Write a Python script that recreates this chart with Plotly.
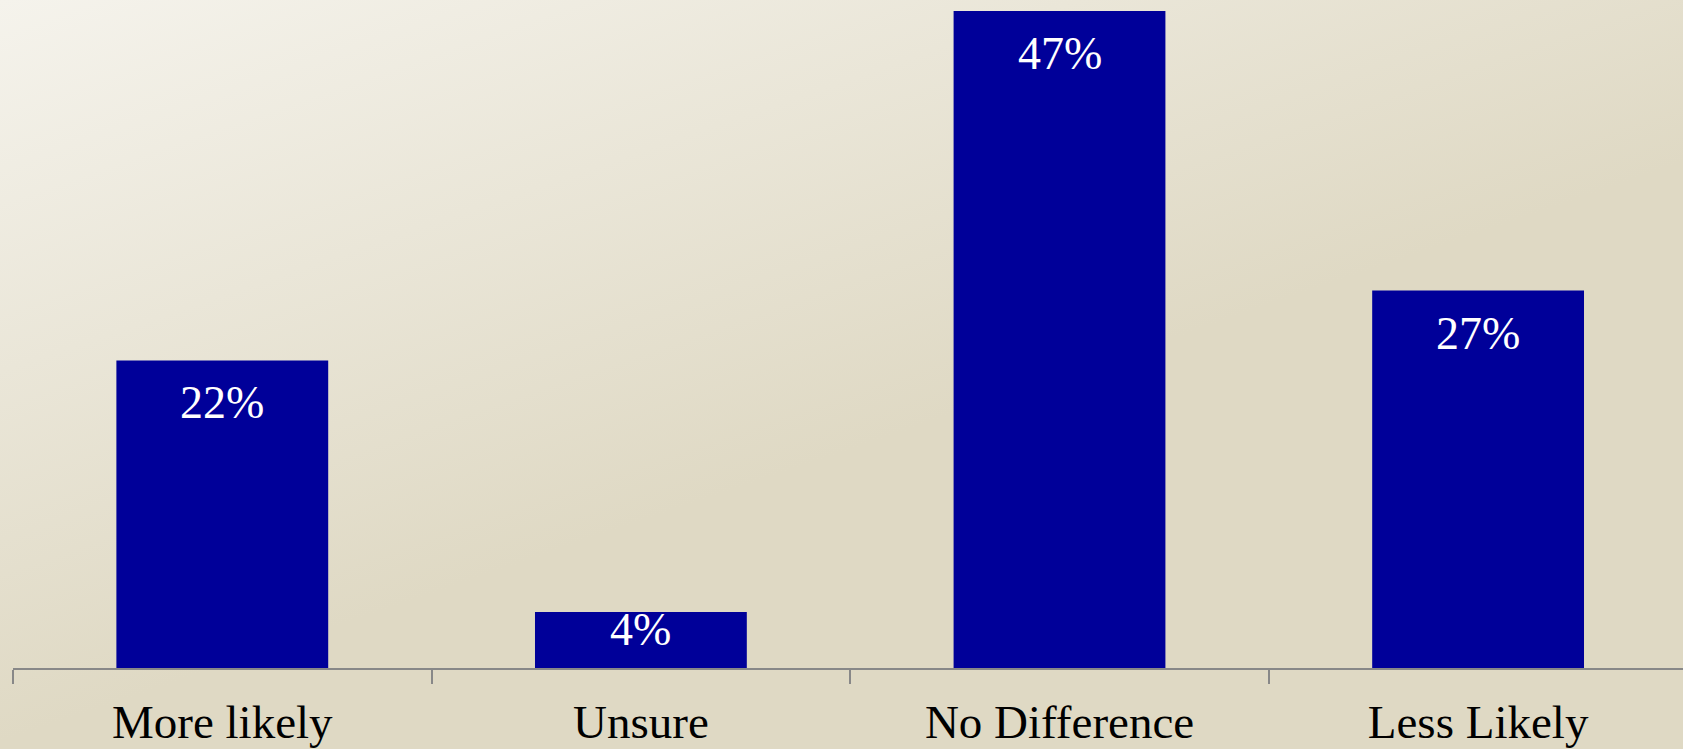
# Survey bar chart: likelihood responses, percent of respondents
import base64
import plotly.graph_objects as go

categories = ['More likely', 'Unsure', 'No Difference', 'Less Likely']
values = [22, 4, 47, 27]
labels = ['22%', '4%', '47%', '27%']

W, H = 1683, 749
M_L, M_B = 13, 81
plot_w, plot_h = W - M_L, H - M_B
Y_MAX = 47.78

# soft diagonal gradient for the slide-style background
svg = (
    '<svg xmlns="http://www.w3.org/2000/svg" width="100" height="100" '
    'preserveAspectRatio="none" viewBox="0 0 100 100">'
    '<defs><linearGradient id="g" x1="0" y1="0" x2="0.48" y2="0.62">'
    '<stop offset="0" stop-color="#f5f3ec"/>'
    '<stop offset="1" stop-color="#dfd9c4"/>'
    '</linearGradient></defs>'
    '<rect width="100" height="100" fill="url(#g)"/></svg>'
)
bg_src = 'data:image/svg+xml;base64,' + base64.b64encode(svg.encode()).decode()

fig = go.Figure(go.Bar(
    x=categories,
    y=values,
    marker=dict(color='#000099', line=dict(width=0)),
    hoverinfo='skip',
))

# value labels near the top of each bar; short bars get them pushed up to the rim
annots = []
for cat, v, lab in zip(categories, values, labels):
    bar_px = v / Y_MAX * plot_h
    annots.append(dict(
        x=cat, y=v, xref='x', yref='y', text=lab, showarrow=False,
        yanchor='top', yshift=-15 if bar_px > 100 else 10,
        font=dict(family='Liberation Serif', size=46, color='white'),
    ))

fig.update_layout(
    width=W,
    height=H,
    margin=dict(l=M_L, r=0, t=0, b=M_B),
    paper_bgcolor='#dfd9c4',
    plot_bgcolor='rgba(0,0,0,0)',
    bargap=0.494,
    showlegend=False,
    annotations=annots,
    images=[dict(
        source=bg_src, xref='paper', yref='paper',
        x=-M_L / plot_w, y=1, sizex=W / plot_w, sizey=H / plot_h,
        xanchor='left', yanchor='top', sizing='stretch', layer='below',
    )],
)

fig.update_xaxes(
    range=[-0.5, -0.5 + plot_w / 418.6],
    tickson='boundaries',
    ticks='outside',
    ticklen=14,
    tickwidth=2,
    tickcolor='#888888',
    showline=True,
    linecolor='#888888',
    linewidth=2,
    showgrid=False,
    ticklabelstandoff=12,
    tickfont=dict(family='Liberation Serif', size=47, color='black'),
)
fig.update_yaxes(
    range=[0, Y_MAX],
    visible=False,
    showgrid=False,
    zeroline=False,
)

# drop the browser's default body margin so the figure fills the window
fig.write_html('out.html', config={'displayModeBar': False},
               post_script="document.body.style.margin='0';")
